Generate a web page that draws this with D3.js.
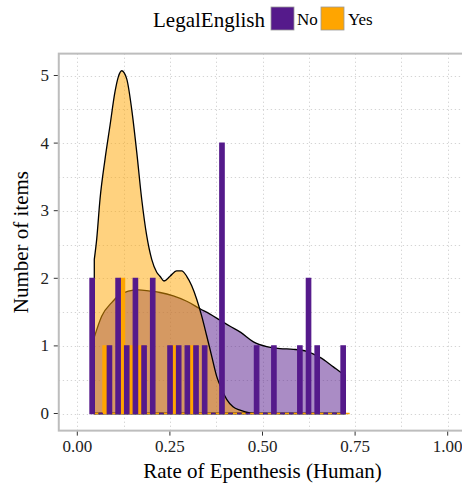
<!DOCTYPE html>
<html>
<head>
<meta charset="utf-8">
<script src="https://cdn.jsdelivr.net/npm/d3@7"></script>
<style>
  html, body { margin: 0; padding: 0; background: #fff; }
  svg { display: block; font-family: "Liberation Serif", "DejaVu Serif", serif; }
</style>
</head>
<body>
<svg id="chart" width="462" height="485"></svg>
<script>
// ---- data ----
const groups = ["No", "Yes"];
const groupColors = ["#551A8B", "#FFA500"];
const dataMin = 0.0459;
const dataMax = 0.7236;
const nBins = 30;
const countsNo  = [2,0,1,2,1,2,1,2,0,1,1,1,1,1,0,4,0,0,0,1,0,1,0,0,1,2,1,0,0,1];
const countsYes = [0,1,0,2,1,1,0,0,0,1,0,1,0,0,0,0,0,0,0,0,0,0,0,0,0,0,0,0,0,0];
const densNoX  = [0.0459,0.0658,0.0928,0.1107,0.1377,0.1647,0.1964,0.2233,0.2592,0.2954,0.3313,0.3584,0.3854,0.4125,0.4413,0.4755,0.5114,0.5473,0.5832,0.6193,0.6553,0.6913,0.7137,0.7236];
const densNoY  = [1.13,1.44,1.64,1.74,1.81,1.83,1.81,1.79,1.74,1.66,1.55,1.47,1.38,1.29,1.20,1.06,0.99,0.96,0.95,0.92,0.83,0.69,0.60,0.57];
const densYesX = [0.0459,0.0524,0.0613,0.0748,0.0883,0.1018,0.1107,0.1199,0.1334,0.1469,0.1604,0.1739,0.1874,0.2009,0.2144,0.2233,0.2341,0.2503,0.2684,0.2819,0.2954,0.3089,0.3224,0.3359,0.3493,0.3628,0.3763,0.3898,0.4033,0.4204,0.4393,0.466,0.50,0.7236];
const densYesY = [2.28,2.58,3.17,3.76,4.26,4.76,4.98,5.07,4.95,4.50,3.87,3.17,2.63,2.28,2.09,2.03,1.96,2.03,2.11,2.11,2.03,1.89,1.69,1.44,1.15,0.85,0.55,0.36,0.21,0.10,0.05,0.01,0,0];
const xTicks = [0, 0.25, 0.5, 0.75, 1.0];
const xTickLabels = ["0.00", "0.25", "0.50", "0.75", "1.00"];
const yTicks = [0, 1, 2, 3, 4, 5];
const xTitle = "Rate of Epenthesis (Human)";
const yTitle = "Number of items";
const legendTitle = "LegalEnglish";

// ---- scales ----
const svg = d3.select("#chart");
const x = d3.scaleLinear().domain([0, 1]).range([77.3, 447.7]);
const y = d3.scaleLinear().domain([0, 5]).range([413.5, 75.5]);
const yMaxData = 5.07;
const xLo = x(-0.05), xHi = x(1.05);
const yLo = y(-0.05 * yMaxData), yHi = y(yMaxData * 1.05);

// panel
svg.append("rect").attr("x", xLo).attr("y", yHi).attr("width", xHi - xLo).attr("height", yLo - yHi)
  .attr("fill", "#fff");

// grid
const gGrid = svg.append("g").attr("stroke", "#d4d4d4").attr("stroke-width", 1).attr("stroke-dasharray", "1.3,2.7");
const xGrid = d3.range(0, 1.0001, 0.125);
const yGrid = d3.range(0, 5.0001, 0.5);
gGrid.selectAll(".vg").data(xGrid).join("line")
  .attr("x1", d => Math.round(x(d)) + 0.5).attr("x2", d => Math.round(x(d)) + 0.5)
  .attr("y1", yHi).attr("y2", yLo);
gGrid.selectAll(".hg").data(yGrid).join("line")
  .attr("y1", d => Math.round(y(d)) + 0.5).attr("y2", d => Math.round(y(d)) + 0.5)
  .attr("x1", xLo).attr("x2", xHi);

// densities
function densArea(xs, ys) {
  const pts = xs.map((v, i) => [v, ys[i]]);
  const line = d3.line().x(d => x(d[0])).y(d => y(d[1])).curve(d3.curveMonotoneX);
  const top = line(pts);
  return top + "L" + x(xs[xs.length - 1]) + "," + y(0) + "L" + x(xs[0]) + "," + y(0) + "Z";
}
svg.append("path").attr("d", densArea(densNoX, densNoY))
  .attr("fill", groupColors[0]).attr("fill-opacity", 0.5)
  .attr("stroke", "#000").attr("stroke-width", 1.3);
svg.append("path").attr("d", densArea(densYesX, densYesY))
  .attr("fill", groupColors[1]).attr("fill-opacity", 0.5)
  .attr("stroke", "#000").attr("stroke-width", 1.3);

// histogram bars (dodged)
const binW = (dataMax - dataMin) / (nBins - 1);
const bins = d3.range(nBins).map(k => ({ k, c: dataMin + k * binW }));
function barPath(x0, x1, h) {
  const p = d3.path();
  p.moveTo(x(x0), y(0));
  p.lineTo(x(x1), y(0));
  p.lineTo(x(x1), y(h));
  p.lineTo(x(x0), y(h));
  p.closePath();
  return p.toString();
}
const gBars = svg.append("g");
// Yes (right half) first, then No (left half)
gBars.selectAll(".yes").data(bins).join("path")
  .attr("d", d => barPath(d.c, d.c + binW / 2, countsYes[d.k]))
  .attr("fill", groupColors[1]).attr("stroke", groupColors[1]).attr("stroke-width", 1.3);
gBars.selectAll(".no").data(bins).join("path")
  .attr("d", d => barPath(d.c - binW / 2, d.c, countsNo[d.k]))
  .attr("fill", groupColors[0]).attr("stroke", groupColors[0]).attr("stroke-width", 1.3);

// panel border
svg.append("rect").attr("x", xLo).attr("y", yHi).attr("width", xHi - xLo).attr("height", yLo - yHi)
  .attr("fill", "none").attr("stroke", "#bdbdbd").attr("stroke-width", 2);

// axes ticks
const gAx = svg.append("g");
gAx.selectAll(".xt").data(xTicks).join("line")
  .attr("x1", d => x(d)).attr("x2", d => x(d))
  .attr("y1", yLo + 1).attr("y2", yLo + 5).attr("stroke", "#333").attr("stroke-width", 1);
gAx.selectAll(".xl").data(xTicks).join("text")
  .attr("x", d => x(d)).attr("y", 452).attr("text-anchor", "middle")
  .attr("font-size", 17).attr("fill", "#222").text((d, i) => xTickLabels[i]);
gAx.selectAll(".yt").data(yTicks).join("line")
  .attr("y1", d => y(d)).attr("y2", d => y(d))
  .attr("x1", xLo - 5).attr("x2", xLo - 1).attr("stroke", "#333").attr("stroke-width", 1);
gAx.selectAll(".yl").data(yTicks).join("text")
  .attr("x", 49).attr("y", d => y(d) + 5.5).attr("text-anchor", "end")
  .attr("font-size", 17).attr("fill", "#222").text(d => d);

// axis titles
svg.append("text").attr("x", (x(0) + x(1)) / 2).attr("y", 478).attr("text-anchor", "middle")
  .attr("font-size", 21).attr("fill", "#000").text(xTitle);
svg.append("text").attr("transform", `translate(28,${(yHi + yLo) / 2}) rotate(-90)`)
  .attr("text-anchor", "middle").attr("font-size", 21).attr("fill", "#000").text(yTitle);

// legend
const gL = svg.append("g");
gL.append("text").attr("x", 153).attr("y", 27).attr("font-size", 21).attr("fill", "#000").text(legendTitle);
const keyX = [271, 321];
const labX = [297, 348];
groups.forEach((g, i) => {
  gL.append("rect").attr("x", keyX[i]).attr("y", 7).attr("width", 23).attr("height", 23)
    .attr("fill", groupColors[i]).attr("stroke", "#9a9a9a").attr("stroke-width", 0.8);
  gL.append("text").attr("x", labX[i]).attr("y", 25).attr("font-size", 17).attr("fill", "#000").text(g);
});
</script>
</body>
</html>
